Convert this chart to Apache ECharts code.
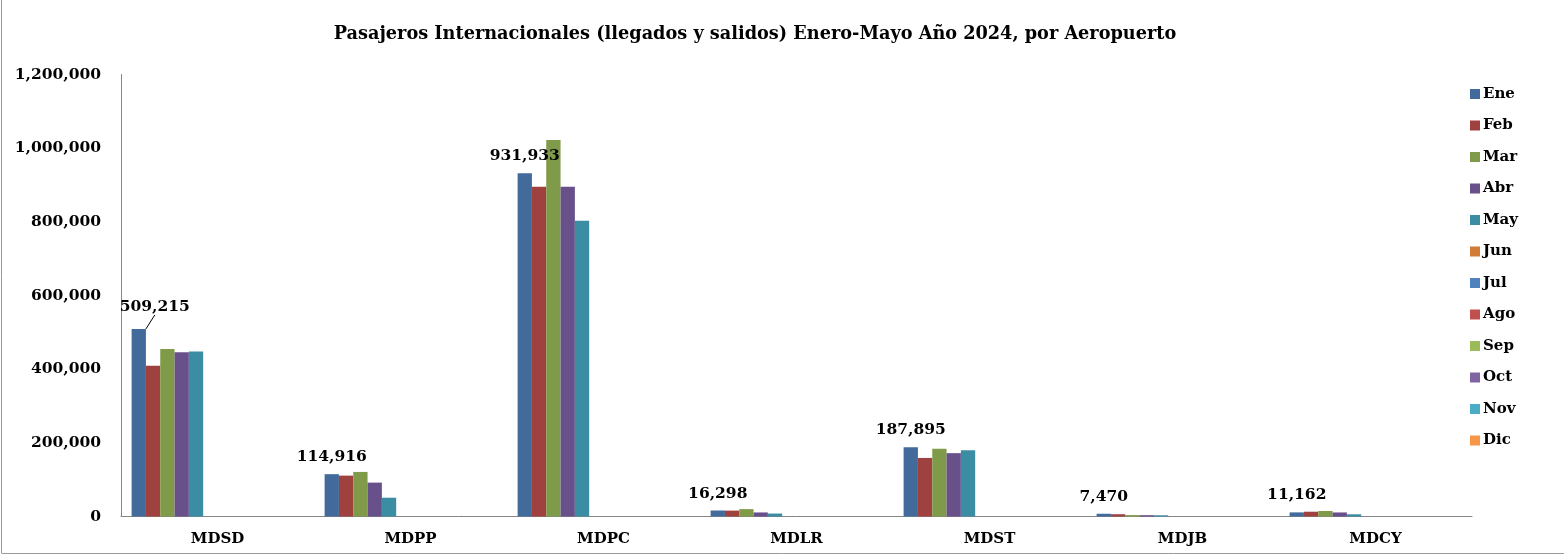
<!DOCTYPE html>
<html>
<head>
<meta charset="utf-8">
<script src="https://cdn.jsdelivr.net/npm/echarts@6/dist/echarts.min.js"></script>
<style>
html,body{margin:0;padding:0;background:#fff;}
#c{width:1564px;height:557px;}
</style>
</head>
<body>
<div id="c"></div>
<script>
const categories = ['MDSD','MDPP','MDPC','MDLR','MDST','MDJB','MDCY'];
const months = ['Ene','Feb','Mar','Abr','May','Jun','Jul','Ago','Sep','Oct','Nov','Dic'];
const ene = [509215, 114916, 931933, 16298, 187895, 7470, 11162];
const feb = [409000, 111000, 895000, 16000, 159000, 6200, 13000];
const mar = [455000, 121000, 1022000, 20000, 184000, 3800, 15000];
const abr = [446000, 92000, 895000, 11000, 172000, 3600, 11000];
const may = [448000, 51000, 803000, 8000, 180000, 3300, 6000];
const emptySeries = [null, null, null, null, null, null, null];
const yTicks = [0, 200000, 400000, 600000, 800000, 1000000, 1200000];
const colors = ['#426B9C','#9F413E','#7F9A48','#68508A','#3B8DA3','#D07B37','#4F81BD','#C0504D','#9BBB59','#8064A2','#4BACC6','#F79646'];

const FONT = 'DejaVu Serif';
const seriesData = [ene, feb, mar, abr, may];

const series = months.map((m, i) => {
  let data = i < seriesData.length ? seriesData[i] : emptySeries;
  const s = {
    name: m,
    type: 'bar',
    data: data,
    itemStyle: {color: colors[i]},
    barGap: '0%',
    barCategoryGap: '11%'
  };
  if (i === 0) {
    s.data = data.map((v, k) => k === 0 ? {value: v, labelLine: {show: true}} : {value: v, labelLine: {show: false}});
    s.label = {
      show: true, position: 'top', distance: 9,
      formatter: p => p.value.toLocaleString('en-US'),
      fontFamily: FONT, fontWeight: 'bold', fontSize: 15.5, color: '#000'
    };
    s.labelLayout = function (p) {
      if (p.dataIndex === 0) return {dx: 16, dy: -5};
      return {};
    };
    s.labelLine = {show: false, lineStyle: {color: '#000', width: 1}};
  }
  return s;
});

const chart = echarts.init(document.getElementById('c'));
chart.setOption({
  animation: false,
  backgroundColor: '#fff',
  color: colors,
  title: {
    text: 'Pasajeros Internacionales (llegados y salidos) Enero-Mayo Año 2024, por Aeropuerto',
    left: 750, top: 20, textAlign: 'center',
    textStyle: {fontFamily: FONT, fontWeight: 'bold', fontSize: 17.7, color: '#000'}
  },
  legend: {
    orient: 'vertical', left: 1465, top: 81,
    itemWidth: 10, itemHeight: 10, itemGap: 15.5,
    icon: 'rect',
    textStyle: {fontFamily: FONT, fontWeight: 'bold', fontSize: 15, color: '#000', lineHeight: 16, padding: [0,0,0,-2]},
    data: months
  },
  grid: {left: 121, right: 92, top: 74.5, bottom: 40.5, containLabel: false},
  xAxis: {
    type: 'category', data: categories,
    axisLine: {lineStyle: {color: '#868686', width: 1}},
    axisTick: {show: false},
    axisLabel: {fontFamily: FONT, fontWeight: 'bold', fontSize: 15, color: '#000', margin: 15}
  },
  yAxis: {
    type: 'value', min: yTicks[0], max: yTicks[yTicks.length-1], interval: 200000,
    axisLine: {show: true, lineStyle: {color: '#868686', width: 1}},
    axisTick: {show: false},
    splitLine: {show: false},
    axisLabel: {fontFamily: FONT, fontWeight: 'bold', fontSize: 15.5, color: '#000', margin: 20,
      formatter: v => v.toLocaleString('en-US')}
  },
  graphic: [
    {type: 'line', shape: {x1: 1.5, y1: 0, x2: 1.5, y2: 553}, style: {stroke: '#9a9a9a', lineWidth: 1}},
    {type: 'line', shape: {x1: 1.5, y1: 553.5, x2: 1564, y2: 553.5}, style: {stroke: '#9a9a9a', lineWidth: 1}}
  ],
  series: series
});
</script>
</body>
</html>
